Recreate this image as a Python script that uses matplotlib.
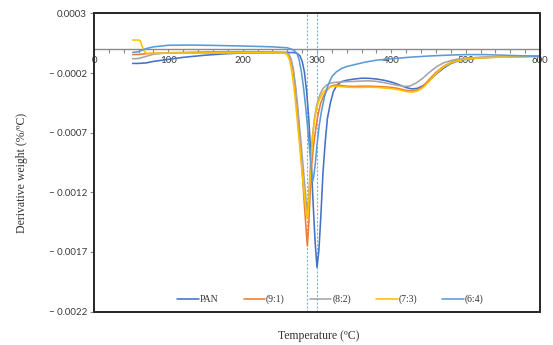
import matplotlib
matplotlib.use("Agg")
import matplotlib.pyplot as plt
from matplotlib.patches import Rectangle
from matplotlib.ticker import MultipleLocator

# ---------------- data ----------------
series_names = ["PAN", "(9:1)", "(8:2)", "(7:3)", "(6:4)"]
series_colors = ["#4472C4", "#ED7D31", "#A5A5A5", "#FFC000", "#5B9BD5"]

pan_t = [52, 60, 70, 80, 100, 120, 150, 180, 200, 230, 255, 268, 273, 277, 280, 283, 286, 289,
         292, 295, 297.5, 300, 302.5, 305, 308, 311, 314, 318, 322, 327, 333, 340, 350, 360, 370,
         380, 390, 400, 410, 420, 428, 435, 443, 450, 460, 470, 480, 490, 500, 520, 550, 600]
pan_v = [-0.000119, -0.000119, -0.000115, -0.000102, -0.000085, -0.000068, -0.000050, -0.000037,
         -0.000032, -0.000029, -0.000027, -0.000028, -0.000033, -0.000055, -0.000100, -0.000190,
         -0.000350, -0.000590, -0.000930, -0.001320, -0.001620, -0.001830, -0.001690, -0.001420,
         -0.001040, -0.000780, -0.000580, -0.000450, -0.000356, -0.000300, -0.000272, -0.000260,
         -0.000250, -0.000243, -0.000244, -0.000250, -0.000260, -0.000275, -0.000297, -0.000322,
         -0.000333, -0.000328, -0.000305, -0.000270, -0.000210, -0.000160, -0.000120, -0.000098,
         -0.000085, -0.000072, -0.000064, -0.000058]

s91_t = [52, 60, 70, 80, 100, 150, 200, 240, 258, 262, 265, 268, 271, 274, 277, 280, 282.5, 285,
         287, 289, 291, 293, 295.5, 298, 301, 305, 309, 313, 318, 324, 330, 340, 350, 360, 370,
         380, 390, 400, 410, 420, 428, 435, 443, 450, 460, 470, 480, 490, 500, 520, 550, 600]
s91_v = [-0.000045, -0.000044, -0.000037, -0.000034, -0.000032, -0.000030, -0.000029, -0.000030,
         -0.000033, -0.000045, -0.000090, -0.000180, -0.000330, -0.000530, -0.000770, -0.001020,
         -0.001260, -0.001480, -0.001650, -0.001450, -0.001180, -0.000960, -0.000800, -0.000680,
         -0.000560, -0.000450, -0.000390, -0.000345, -0.000312, -0.000300, -0.000303, -0.000310,
         -0.000312, -0.000310, -0.000310, -0.000312, -0.000315, -0.000320, -0.000330, -0.000345,
         -0.000350, -0.000342, -0.000310, -0.000260, -0.000195, -0.000145, -0.000110, -0.000090,
         -0.000080, -0.000070, -0.000063, -0.000058]

s82_t = [52, 60, 70, 80, 100, 150, 200, 240, 258, 262, 265, 268, 271, 274, 277, 280, 283, 285.5,
         287, 288.5, 290, 292, 294, 297, 300, 304, 308, 313, 318, 324, 332, 340, 350, 360, 370,
         380, 390, 400, 410, 418, 425, 433, 443, 450, 460, 470, 480, 490, 500, 520, 550, 600]
s82_v = [-0.000080, -0.000078, -0.000060, -0.000042, -0.000030, -0.000022, -0.000020, -0.000022,
         -0.000028, -0.000040, -0.000080, -0.000160, -0.000300, -0.000480, -0.000680, -0.000890,
         -0.001100, -0.001280, -0.001360, -0.001280, -0.001100, -0.000890, -0.000720, -0.000560,
         -0.000460, -0.000380, -0.000330, -0.000300, -0.000285, -0.000278, -0.000275, -0.000272,
         -0.000270, -0.000267, -0.000265, -0.000270, -0.000280, -0.000292, -0.000305, -0.000312,
         -0.000308, -0.000285, -0.000240, -0.000200, -0.000150, -0.000115, -0.000095, -0.000082,
         -0.000075, -0.000067, -0.000062, -0.000058]

s73_t = [52, 60, 62, 65, 68, 71, 80, 100, 150, 200, 240, 256, 260, 263, 266, 269, 272, 275, 278,
         281, 284, 286, 287, 288.5, 290, 292, 294, 296.5, 299, 302, 306, 310, 315, 320, 326, 335,
         345, 360, 370, 380, 390, 400, 410, 420, 428, 435, 443, 450, 460, 470, 480, 490, 500, 520,
         550, 600]
s73_v = [0.000077, 0.000077, 0.000072, 0.000020, -0.000020, -0.000036, -0.000035, -0.000033,
         -0.000031, -0.000030, -0.000030, -0.000033, -0.000045, -0.000090, -0.000180, -0.000320,
         -0.000500, -0.000700, -0.000900, -0.001100, -0.001290, -0.001400, -0.001420, -0.001340,
         -0.001150, -0.000920, -0.000740, -0.000600, -0.000510, -0.000440, -0.000385, -0.000350,
         -0.000325, -0.000312, -0.000310, -0.000315, -0.000320, -0.000320, -0.000318, -0.000320,
         -0.000325, -0.000330, -0.000340, -0.000355, -0.000360, -0.000350, -0.000320, -0.000275,
         -0.000205, -0.000150, -0.000115, -0.000095, -0.000083, -0.000072, -0.000066, -0.000062]

s64_t = [52, 60, 70, 80, 100, 130, 160, 200, 240, 260, 266, 270, 273, 276, 279, 282, 285, 288,
         290.5, 292.5, 294, 295.5, 297.5, 300, 303, 306, 310, 315, 320, 326, 333, 340, 350, 365,
         380, 400, 425, 450, 475, 500, 525, 550, 575, 600]
s64_v = [-0.000027, -0.000020, 0.000005, 0.000020, 0.000033, 0.000035, 0.000032, 0.000027,
         0.000020, 0.000012, 0.000000, -0.000015, -0.000035, -0.000090, -0.000190, -0.000330,
         -0.000500, -0.000700, -0.000880, -0.001020, -0.001110, -0.001070, -0.000970, -0.000800,
         -0.000640, -0.000520, -0.000400, -0.000300, -0.000230, -0.000190, -0.000162, -0.000145,
         -0.000130, -0.000108, -0.000092, -0.000080, -0.000067, -0.000057, -0.000050, -0.000045,
         -0.000045, -0.000050, -0.000055, -0.000060]

peak_lines = [287, 300]
x_ticks = [0, 100, 200, 300, 400, 500, 600]
y_ticks = [-0.0022, -0.0017, -0.0012, -0.0007, -0.0002, 0.0003]
y_tick_labels = ["\u2212 0.0022", "\u2212 0.0017", "\u2212 0.0012", "\u2212 0.0007",
                 "\u2212 0.0002", "0.0003"]

# ---------------- plot ----------------
fig = plt.figure(figsize=(5.53, 3.45), dpi=100)
ax = fig.add_axes([0.170, 0.097, 0.8065, 0.864])

ts = [pan_t, s91_t, s82_t, s73_t, s64_t]
vs = [pan_v, s91_v, s82_v, s73_v, s64_v]
for t, v, name, c in zip(ts, vs, series_names, series_colors):
    ax.plot(t, v, color=c, lw=1.15, label=name, solid_capstyle="round",
            solid_joinstyle="round", zorder=3)

for xl in peak_lines:
    ax.axvline(xl, color="#7db4de", lw=0.8, linestyle=(0, (2, 1.5)), zorder=2)

ax.set_xlim(0, 600)
ax.set_ylim(-0.0022, 0.0003)

# x axis drawn through zero
ax.spines["bottom"].set_position(("data", 0))
ax.spines["bottom"].set_color("#8a8a8a")
ax.spines["bottom"].set_linewidth(1.0)
ax.spines["top"].set_visible(False)
ax.spines["right"].set_visible(False)
ax.spines["left"].set_visible(False)
ax.add_patch(Rectangle((0, 0), 1, 1, transform=ax.transAxes, fill=False,
                       ec="#262626", lw=1.4, clip_on=False, zorder=5))

ax.set_xticks(x_ticks)
ax.set_xticklabels([str(x) for x in x_ticks])
ax.xaxis.set_minor_locator(MultipleLocator(20))
ax.tick_params(axis="x", which="both", direction="out", length=3, width=0.8,
               color="#8a8a8a", labelsize=7, labelcolor="#3a3a3a", pad=2)
ax.set_yticks(y_ticks)
ax.set_yticklabels(y_tick_labels)
ax.tick_params(axis="y", direction="out", length=3, width=0.8, color="#8a8a8a",
               labelsize=7, labelcolor="#3a3a3a", pad=2)
for lab in ax.get_xticklabels() + ax.get_yticklabels():
    lab.set_family(["Lato", "DejaVu Sans"])

ax.set_xlabel("Temperature (\u00baC)", family="Liberation Serif", fontsize=8.5, color="#333333")
ax.xaxis.set_label_coords(0.504, -0.082)
ax.xaxis.label.set_va("center")
ax.set_ylabel("Derivative weight (%/\u00baC)", family="Liberation Serif", fontsize=8.5,
              color="#333333")
ax.yaxis.set_label_coords(-0.161, 0.465)
ax.yaxis.label.set_va("center")

leg = ax.legend(loc="center", bbox_to_anchor=(0.53, 0.04), ncol=5, frameon=False,
                prop={"family": "Liberation Serif", "size": 7}, handlelength=2.2,
                handletextpad=0.1, columnspacing=2.6)
for txt in leg.get_texts():
    txt.set_color("#333333")

fig.savefig("out.png", dpi=100)
